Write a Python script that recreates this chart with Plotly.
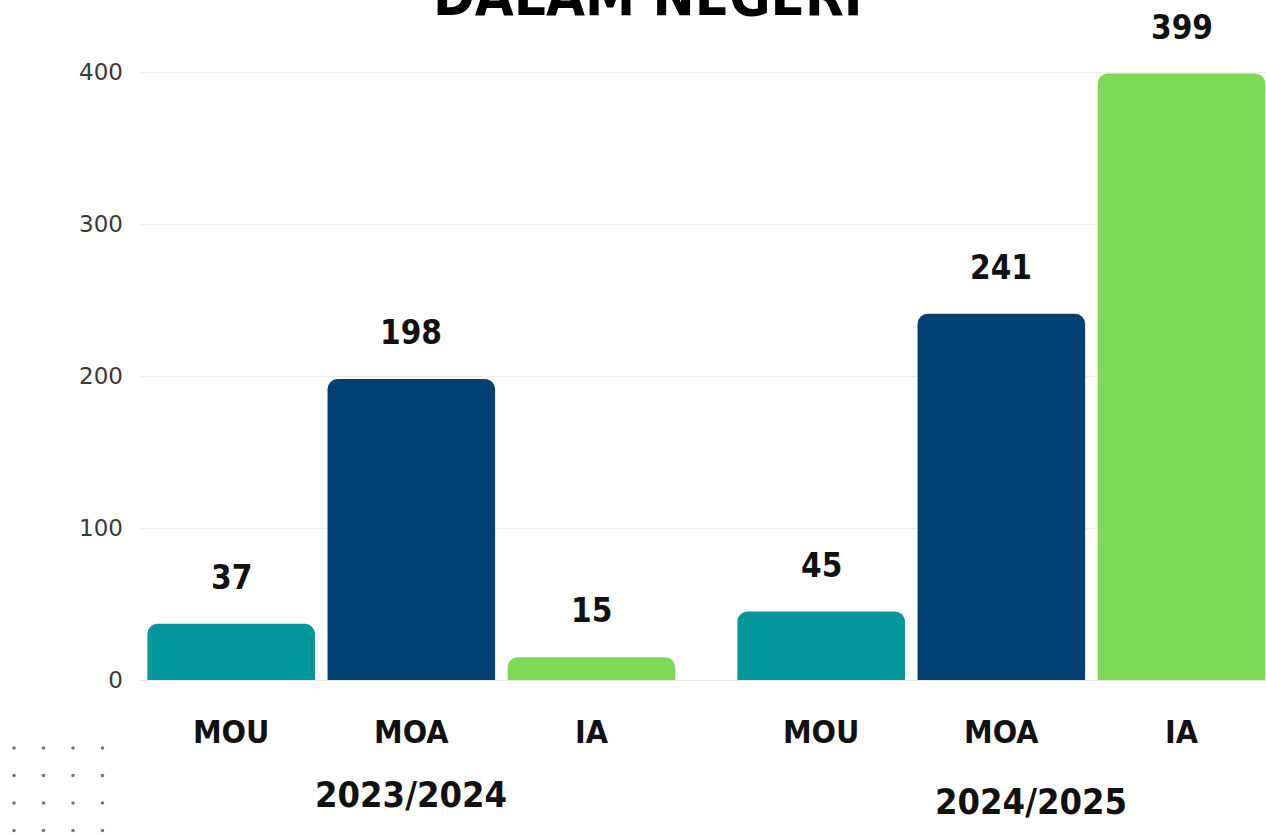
import plotly.graph_objects as go

years = ["2023/2024", "2024/2025"]
types = ["MOU", "MOA", "IA"]
counts_2023 = [37, 198, 15]
counts_2024 = [45, 241, 399]
colors = ["#04979B", "#023F73", "#7ED957"]
yticks = [0, 100, 200, 300, 400]

counts = [counts_2023, counts_2024]
group_gap = 0.275
bar_width = 0.93
heavy = "Liberation Sans Narrow, DejaVu Sans Condensed, Arial Narrow, sans-serif"


def pos(g, i):
    return g * (len(types) + group_gap) + i


fig = go.Figure()
for i, t in enumerate(types):
    fig.add_trace(go.Bar(
        x=[pos(g, i) for g in range(len(years))],
        y=[counts[g][i] for g in range(len(years))],
        name=t,
        width=bar_width,
        marker=dict(color=colors[i], cornerradius=10, line=dict(width=0)),
        hoverinfo="x+y",
    ))

annotations = []
# value labels above bars
for g in range(len(years)):
    for i in range(len(types)):
        annotations.append(dict(
            x=pos(g, i), y=counts[g][i], xref="x", yref="y",
            text=str(counts[g][i]), showarrow=False,
            yanchor="bottom", yshift=25,
            font=dict(family=heavy, size=33, color="#111", weight="bold"),
        ))

# year labels under each group (second one sits a bit lower/right)
year_shift = [[0, 92], [30, 99]]
for g, yr in enumerate(years):
    annotations.append(dict(
        x=pos(g, 1), y=0, xref="x", yref="paper",
        text=yr, showarrow=False, yanchor="top",
        xshift=year_shift[g][0], yshift=-year_shift[g][1],
        font=dict(family=heavy, size=36, color="#111", weight="bold"),
    ))

# title, cut at the top of the picture
annotations.append(dict(
    x=0.451, y=1, xref="paper", yref="paper",
    text="DALAM NEGERI", showarrow=False, yanchor="bottom", yshift=-30,
    font=dict(family=heavy, size=56, color="#000", weight="bold"),
))

# dot grid decoration, bottom left
shapes = []
for r in range(4):
    for c in range(4):
        px, py = 14 + c * 29.5, 748 + r * 27.5
        xp, yp = (px - 140) / 1126, (680 - py) / 680
        shapes.append(dict(
            type="circle", xref="paper", yref="paper",
            x0=xp - 1.8 / 1126, x1=xp + 1.8 / 1126,
            y0=yp - 1.8 / 680, y1=yp + 1.8 / 680,
            fillcolor="#6f7a7a", line=dict(width=0),
        ))

fig.update_layout(
    width=1266, height=835,
    margin=dict(l=140, r=0, t=0, b=155),
    paper_bgcolor="white", plot_bgcolor="white",
    barmode="overlay",
    showlegend=False,
    annotations=annotations,
    shapes=shapes,
    xaxis=dict(
        range=[-0.506, pos(1, 2) + 0.469],
        tickvals=[pos(g, i) for g in range(len(years)) for i in range(len(types))],
        ticktext=[t for g in range(len(years)) for t in types],
        tickfont=dict(family=heavy, size=32, color="#111", weight="bold"),
        ticks="", showgrid=False, zeroline=False, showline=False,
        ticklabelstandoff=30,
    ),
    yaxis=dict(
        range=[0, 447.4],
        tickvals=yticks,
        tickfont=dict(family="DejaVu Sans", size=23, color="#3a3a3a"),
        showgrid=True, gridcolor="#eeeeee", gridwidth=1,
        zeroline=True, zerolinecolor="#e8e8e8", zerolinewidth=1,
        ticks="", showline=False,
        ticklabelstandoff=16,
    ),
)

fig.write_html("out.html", config={"displayModeBar": False},
               post_script="document.body.style.margin='0';")
